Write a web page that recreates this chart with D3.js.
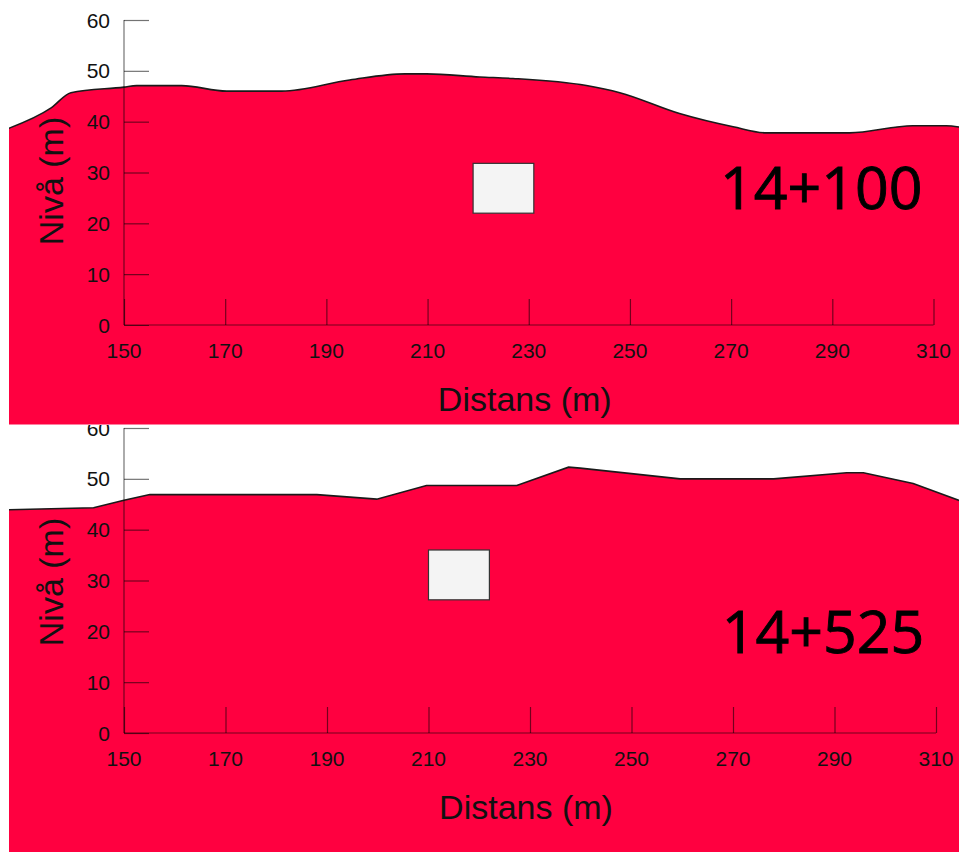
<!DOCTYPE html>
<html>
<head>
<meta charset="utf-8">
<script src="https://cdn.jsdelivr.net/npm/d3@7"></script>
<style>
  html, body { margin: 0; padding: 0; background: #fff; }
  svg { display: block; }
</style>
</head>
<body>
<svg id="chart" width="959" height="852"></svg>
<script>
// Cross-section 14+100: ground profile (distance m, level m)
const section1Name = "14+100";
const section1Dist = [127, 135.6, 139.5, 150, 152.5, 161.4, 170.3, 181.2, 194.6, 205.5, 209.8, 220.3, 226.9, 241.4, 248, 259.8, 270.4, 277, 293.4, 305.9, 312.5, 316];
const section1Level = [38.6, 42.7, 45.7, 46.8, 47.1, 47.1, 46.0, 46.0, 48.2, 49.4, 49.4, 48.8, 48.5, 47.1, 45.7, 41.6, 39.0, 37.8, 37.8, 39.2, 39.2, 38.8];
// Tunnel opening for 14+100: [distance from, distance to], [level from, level to]
const section1BoxDist = [219, 231];
const section1BoxLevel = [22, 31.8];

// Cross-section 14+525
const section2Name = "14+525";
const section2Dist = [127, 144, 150, 155.1, 188, 199.8, 209.6, 220.1, 227.4, 237.6, 239.9, 259.6, 278, 292.4, 295.7, 305.5, 316];
const section2Level = [43.9, 44.3, 45.8, 46.9, 46.9, 46.0, 48.7, 48.7, 48.7, 52.3, 52.1, 50.0, 50.0, 51.2, 51.2, 49.1, 45.2];
const section2BoxDist = [210, 222];
const section2BoxLevel = [26.2, 36];

// Axis ticks
const distTicks = [150, 170, 190, 210, 230, 250, 270, 290, 310];
const levelTicks = [0, 10, 20, 30, 40, 50, 60];
const distDomain = [150, 310];
const levelDomain = [0, 60];
const xTitle = "Distans (m)";
const yTitle = "Nivå (m)";

const RED = "#ff0040";
const AXIS_FONT = "'Liberation Sans', Arial, sans-serif";

const svg = d3.select("#chart");

// Panel layout (pixels)
const panels = [
  {
    name: section1Name, dist: section1Dist, level: section1Level,
    boxDist: section1BoxDist, boxLevel: section1BoxLevel,
    clip: { x: 9, y: 0, w: 950, h: 424.5 },
    xRange: [124, 933.5], yRange: [325, 20],
    curve: d3.curveMonotoneX,
    yTitleY: 181, xTitleY: 411,
    labelPos: [267.8, 22.8]
  },
  {
    name: section2Name, dist: section2Dist, level: section2Level,
    boxDist: section2BoxDist, boxLevel: section2BoxLevel,
    clip: { x: 9, y: 425, w: 950, h: 427 },
    xRange: [124, 936], yRange: [733, 428],
    curve: d3.curveLinear,
    yTitleY: 582, xTitleY: 819,
    labelPos: [267.8, 15.8]
  }
];

const defs = svg.append("defs");

panels.forEach((p, i) => {
  const x = d3.scaleLinear().domain(distDomain).range(p.xRange);
  const y = d3.scaleLinear().domain(levelDomain).range(p.yRange);

  // clip for the ground fill (starts a little right of the left edge)
  defs.append("clipPath").attr("id", "fill-clip-" + i)
    .append("rect")
    .attr("x", p.clip.x).attr("y", p.clip.y)
    .attr("width", p.clip.w).attr("height", p.clip.h);
  // clip for everything in the panel
  defs.append("clipPath").attr("id", "panel-clip-" + i)
    .append("rect")
    .attr("x", 0).attr("y", p.clip.y)
    .attr("width", 959).attr("height", p.clip.h);

  const panel = svg.append("g").attr("clip-path", `url(#panel-clip-${i})`);

  const pts = p.dist.map((d, k) => ({ d: d, v: p.level[k] }));

  const floorLevel = -30;
  const area = d3.area()
    .x(e => x(e.d))
    .y0(y(floorLevel))
    .y1(e => y(e.v))
    .curve(p.curve);
  const line = d3.line()
    .x(e => x(e.d))
    .y(e => y(e.v))
    .curve(p.curve);

  const ground = panel.append("g").attr("clip-path", `url(#fill-clip-${i})`);
  ground.append("path").datum(pts)
    .attr("d", area)
    .attr("fill", RED);
  ground.append("path").datum(pts)
    .attr("d", line)
    .attr("fill", "none")
    .attr("stroke", "#1a1a1a")
    .attr("stroke-width", 1.6);

  // tunnel opening
  panel.append("rect")
    .attr("x", x(p.boxDist[0]))
    .attr("y", y(p.boxLevel[1]))
    .attr("width", x(p.boxDist[1]) - x(p.boxDist[0]))
    .attr("height", y(p.boxLevel[0]) - y(p.boxLevel[1]))
    .attr("fill", "#f4f4f4")
    .attr("stroke", "#333")
    .attr("stroke-width", 1.2);

  // y axis with inward ticks
  const yAxis = d3.axisRight(y).tickValues(levelTicks).tickSize(25).tickFormat("");
  const yg = panel.append("g").attr("transform", `translate(${x(distDomain[0])},0)`).call(yAxis);
  yg.selectAll("path, line").attr("stroke", "#000").attr("stroke-opacity", 0.55).attr("stroke-width", 1.2);
  yg.select(".domain").attr("d", `M0,${y(levelDomain[0])}V${y(levelDomain[1])}`);
  panel.append("g").selectAll("text").data(levelTicks).join("text")
    .attr("x", x(distDomain[0]) - 14)
    .attr("y", d => y(d))
    .attr("dy", "0.36em")
    .attr("text-anchor", "end")
    .attr("font-family", AXIS_FONT)
    .attr("font-size", 21)
    .attr("fill", "#111")
    .text(d => d);

  // x axis with inward (upward) ticks
  const xAxis = d3.axisTop(x).tickValues(distTicks).tickSize(26).tickFormat("");
  const xg = panel.append("g").attr("transform", `translate(0,${y(levelDomain[0])})`).call(xAxis);
  xg.selectAll("path, line").attr("stroke", "#000").attr("stroke-opacity", 0.55).attr("stroke-width", 1.2);
  xg.select(".domain").attr("d", `M${x(distDomain[0])},0H${x(distDomain[1])}`);
  panel.append("g").selectAll("text").data(distTicks).join("text")
    .attr("x", d => x(d))
    .attr("y", y(levelDomain[0]) + 33)
    .attr("text-anchor", "middle")
    .attr("font-family", AXIS_FONT)
    .attr("font-size", 21)
    .attr("fill", "#111")
    .text(d => d);

  // axis titles
  panel.append("text")
    .attr("x", (p.xRange[0] + p.xRange[1]) / 2 - 4)
    .attr("y", p.xTitleY)
    .attr("text-anchor", "middle")
    .attr("font-family", AXIS_FONT)
    .attr("font-size", 34)
    .attr("fill", "#111")
    .text(xTitle);
  panel.append("text")
    .attr("transform", `translate(63,${p.yTitleY}) rotate(-90)`)
    .attr("text-anchor", "middle")
    .attr("font-family", AXIS_FONT)
    .attr("font-size", 34)
    .attr("fill", "#111")
    .text(yTitle);

  // section name
  panel.append("text")
    .attr("x", x(p.labelPos[0]))
    .attr("y", y(p.labelPos[1]))
    .attr("font-family", "'Open Sans', 'Noto Sans', sans-serif")
    .attr("font-size", 59)
    .attr("fill", "#000")
    .attr("stroke", "#000")
    .attr("stroke-width", 0.9)
    .text(p.name);
});
</script>
</body>
</html>
